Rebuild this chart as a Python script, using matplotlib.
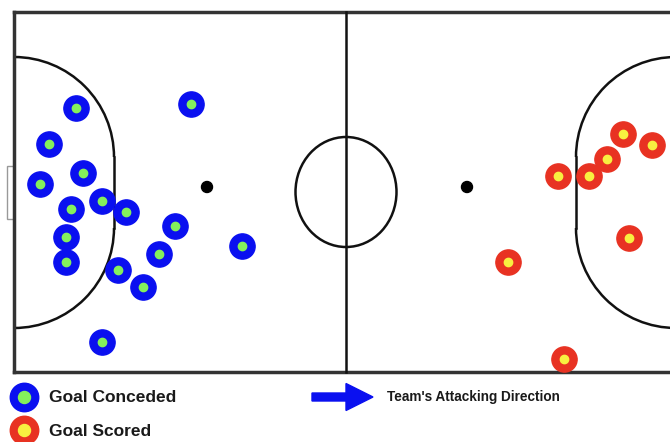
import matplotlib
matplotlib.use("Agg")
import matplotlib.pyplot as plt
from matplotlib import patches

# shot positions, read in picture pixels (x right, y down)
conceded_x = [76, 191, 49, 83, 40, 71, 102, 126, 175, 66, 242, 159, 66, 118, 143, 102]
conceded_y = [108, 104, 144, 173, 184, 209, 201, 212, 226, 237, 246, 254, 262, 270, 287, 342]
scored_x = [623, 652, 607, 558, 589, 629, 508, 564]
scored_y = [134, 145, 159, 176, 176, 238, 262, 359]

labels = ["Goal Conceded", "Goal Scored"]
direction_label = "Team's Attacking Direction"

blue, green = "#0a10f0", "#84f05c"
red, yellow = "#e83222", "#f8f040"

plt.rcParams['font.family'] = ['Liberation Sans', 'DejaVu Sans']

fig = plt.figure(figsize=(6.7, 4.42), dpi=100)
ax = fig.add_axes([0, 0, 1, 1])
ax.set_xlim(0, 670)
ax.set_ylim(442, 0)
ax.axis("off")

# pitch
left, right, top, bottom = 14, 676, 12, 372
mid_x, mid_y = 346, 192
lc = "#111111"
ax.plot([left, 680], [top, top], color="#333333", lw=2.5)
ax.plot([left, 680], [bottom, bottom], color="#333333", lw=2.5)
ax.plot([left, left], [top, bottom], color="#333333", lw=2.5)
ax.plot([mid_x, mid_x], [top, bottom], color=lc, lw=1.8)
ax.add_patch(patches.Ellipse((mid_x, mid_y), 101, 110, fill=False, ec=lc, lw=1.8))
ax.add_patch(patches.Rectangle((7, 166), 7, 53, fc="white", ec="#999999", lw=1))

r = 100
y1, y2 = 157, 228
# left area
ax.add_patch(patches.Arc((left, y1), 2 * r, 2 * r, theta1=270, theta2=360, ec=lc, lw=1.8))
ax.add_patch(patches.Arc((left, y2), 2 * r, 2 * r, theta1=0, theta2=90, ec=lc, lw=1.8))
ax.plot([left + r, left + r], [y1, y2], color=lc, lw=1.8)
# right area
ax.add_patch(patches.Arc((right, y1), 2 * r, 2 * r, theta1=180, theta2=270, ec=lc, lw=1.8))
ax.add_patch(patches.Arc((right, y2), 2 * r, 2 * r, theta1=90, theta2=180, ec=lc, lw=1.8))
ax.plot([right - r, right - r], [y1, y2], color=lc, lw=1.8)

# penalty spots
ax.add_patch(patches.Circle((207, 187), 5.5, color="black"))
ax.add_patch(patches.Circle((467, 187), 5.5, color="black"))

# shots
ax.scatter(conceded_x, conceded_y, s=330, color=blue, zorder=3)
ax.scatter(conceded_x, conceded_y, s=36, color=green, zorder=4)
ax.scatter(scored_x, scored_y, s=330, color=red, zorder=3)
ax.scatter(scored_x, scored_y, s=36, color=yellow, zorder=4)

# legend
ax.scatter([24], [397], s=420, color=blue, clip_on=False)
ax.scatter([24], [397], s=75, color=green, clip_on=False)
ax.scatter([24], [430], s=420, color=red, clip_on=False)
ax.scatter([24], [430], s=75, color=yellow, clip_on=False)
ax.text(49, 398, labels[0], fontsize=12.5, fontweight="bold", color="#1a1a1a", va="center")
ax.text(49, 431, labels[1], fontsize=12.5, fontweight="bold", color="#1a1a1a", va="center")

ax.add_patch(patches.FancyArrow(312, 397, 61, 0, width=8, head_width=27, head_length=27,
                                length_includes_head=True, color=blue))
ax.text(387, 397, direction_label, fontsize=9.8, fontweight="bold", color="#1a1a1a", va="center")

fig.savefig("out.png", dpi=100)
